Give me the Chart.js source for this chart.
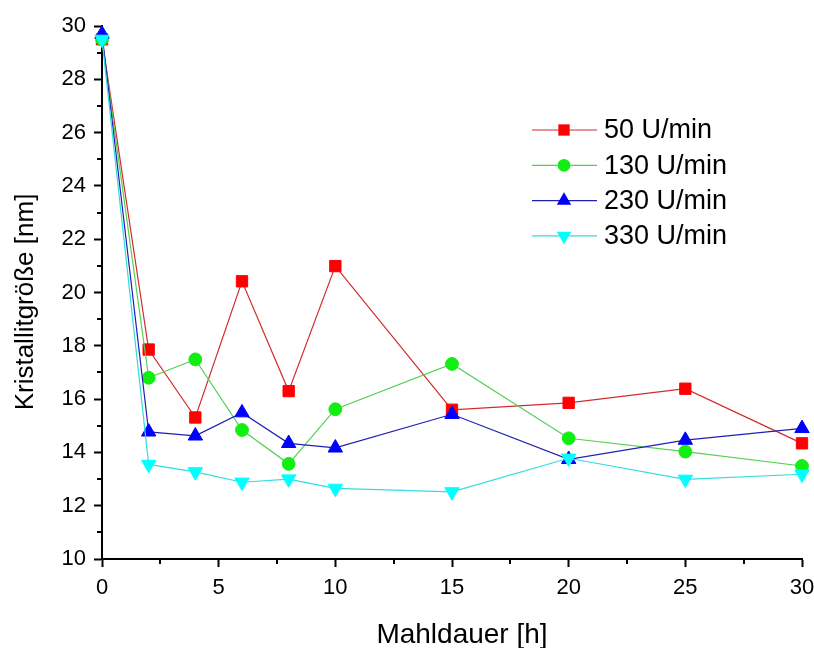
<!DOCTYPE html>
<html>
<head>
<meta charset="utf-8">
<script src="https://cdn.jsdelivr.net/npm/chart.js@4/dist/chart.umd.min.js"></script>
<style>
  html, body { margin: 0; padding: 0; background: #fff; }
  #chart { display: block; }
</style>
</head>
<body>
<canvas id="chart" width="814" height="648"></canvas>
<script>
// Mahldauer [h]
const hours = [0, 2, 4, 6, 8, 10, 15, 20, 25, 30];

// Kristallitgröße [nm]
const rpm50 = [29.5, 17.86, 15.31, 20.42, 16.3, 20.99, 15.6, 15.86, 16.39, 14.34];
const rpm130 = [29.5, 16.8, 17.49, 14.84, 13.57, 15.62, 17.32, 14.53, 14.03, 13.49];
const rpm230 = [29.7, 14.77, 14.62, 15.49, 14.34, 14.17, 15.43, 13.74, 14.46, 14.9];
const rpm330 = [29.5, 13.55, 13.27, 12.88, 13.0, 12.65, 12.52, 13.78, 12.99, 13.18];

const seriesLabels = ["50 U/min", "130 U/min", "230 U/min", "330 U/min"];
const xTitle = "Mahldauer [h]";
const yTitle = "Kristallitgröße [nm]";

const FONT = "'Liberation Sans', Arial, sans-serif";

function toPoints(values) {
  return hours.map((h, i) => ({ x: h, y: values[i] }));
}

function makeDataset(label, values, lineColor, markColor, style, radius, rotation, order) {
  return {
    label: label,
    data: toPoints(values),
    borderColor: lineColor,
    borderWidth: 1.2,
    backgroundColor: markColor,
    pointBackgroundColor: markColor,
    pointBorderColor: markColor,
    pointBorderWidth: 1,
    pointStyle: style,
    pointRadius: radius,
    pointRotation: rotation,
    pointHoverRadius: radius,
    tension: 0,
    clip: false,
    order: order
  };
}

// small ticks between the labelled ones + axis titles
const axisExtras = {
  id: 'axisExtras',
  afterDraw(chart) {
    const ctx = chart.ctx;
    const xs = chart.scales.x;
    const ys = chart.scales.y;
    ctx.save();
    ctx.strokeStyle = '#000';
    ctx.lineWidth = 2;
    ctx.beginPath();
    for (let v = 11; v < 30; v += 2) {
      const py = Math.round(ys.getPixelForValue(v));
      ctx.moveTo(ys.right - 5, py);
      ctx.lineTo(ys.right, py);
    }
    for (let v = 2.5; v < 30; v += 5) {
      const px = Math.round(xs.getPixelForValue(v));
      ctx.moveTo(px, xs.top);
      ctx.lineTo(px, xs.top + 5);
    }
    ctx.stroke();

    ctx.fillStyle = '#000';
    ctx.textBaseline = 'alphabetic';
    ctx.textAlign = 'center';
    ctx.font = '28px ' + FONT;
    ctx.fillText(xTitle, 462, 643);

    ctx.translate(33, 302);
    ctx.rotate(-Math.PI / 2);
    ctx.font = '26px ' + FONT;
    ctx.fillText(yTitle, 0, 0);
    ctx.restore();
  }
};

// legend inside the plot, top right
const insideLegend = {
  id: 'insideLegend',
  afterDraw(chart) {
    const ctx = chart.ctx;
    ctx.save();
    chart.data.datasets.forEach((ds, i) => {
      const y = 130 + i * 35.3;
      ctx.strokeStyle = ds.borderColor;
      ctx.lineWidth = 1.2;
      ctx.beginPath();
      ctx.moveTo(532, y);
      ctx.lineTo(597, y);
      ctx.stroke();
      ctx.fillStyle = ds.pointBackgroundColor;
      ctx.strokeStyle = ds.pointBorderColor;
      ctx.lineWidth = 1;
      Chart.helpers.drawPoint(ctx, {
        pointStyle: ds.pointStyle,
        radius: ds.pointRadius,
        rotation: ds.pointRotation
      }, 564, y);
      ctx.fillStyle = '#000';
      ctx.font = '27px ' + FONT;
      ctx.textAlign = 'left';
      ctx.textBaseline = 'middle';
      ctx.fillText(ds.label, 604, y + 1);
    });
    ctx.restore();
  }
};

new Chart(document.getElementById('chart'), {
  type: 'line',
  data: {
    datasets: [
      makeDataset(seriesLabels[0], rpm50, '#d42a2a', '#ff0000', 'rect', 8, 0, 4),
      makeDataset(seriesLabels[1], rpm130, '#55d055', '#11ee11', 'circle', 6.4, 0, 3),
      makeDataset(seriesLabels[2], rpm230, '#2020b0', '#0000ff', 'triangle', 8.3, 0, 2),
      makeDataset(seriesLabels[3], rpm330, '#33dddd', '#00ffff', 'triangle', 8.3, 180, 1)
    ]
  },
  options: {
    responsive: false,
    animation: false,
    events: [],
    layout: { padding: { left: 0, top: 26, right: 12, bottom: 0 } },
    plugins: {
      legend: { display: false },
      tooltip: { enabled: false }
    },
    scales: {
      x: {
        type: 'linear',
        min: 0,
        max: 30,
        afterFit: s => { s.height = 89; s.paddingRight = 0; s.paddingLeft = 0; },
        border: { color: '#000', width: 2 },
        grid: { drawOnChartArea: false, drawTicks: true, tickLength: 8, tickColor: '#000', tickWidth: 2 },
        ticks: {
          stepSize: 5,
          color: '#000',
          padding: 8,
          maxRotation: 0,
          font: { family: FONT, size: 22 }
        },
        title: { display: false }
      },
      y: {
        type: 'linear',
        min: 10,
        max: 30,
        afterFit: s => { s.width = 102; s.paddingTop = 0; s.paddingBottom = 0; },
        border: { color: '#000', width: 2 },
        grid: { drawOnChartArea: false, drawTicks: true, tickLength: 8, tickColor: '#000', tickWidth: 2 },
        ticks: {
          stepSize: 2,
          color: '#000',
          padding: 8,
          font: { family: FONT, size: 22 }
        },
        title: { display: false }
      }
    }
  },
  plugins: [axisExtras, insideLegend]
});
</script>
</body>
</html>
